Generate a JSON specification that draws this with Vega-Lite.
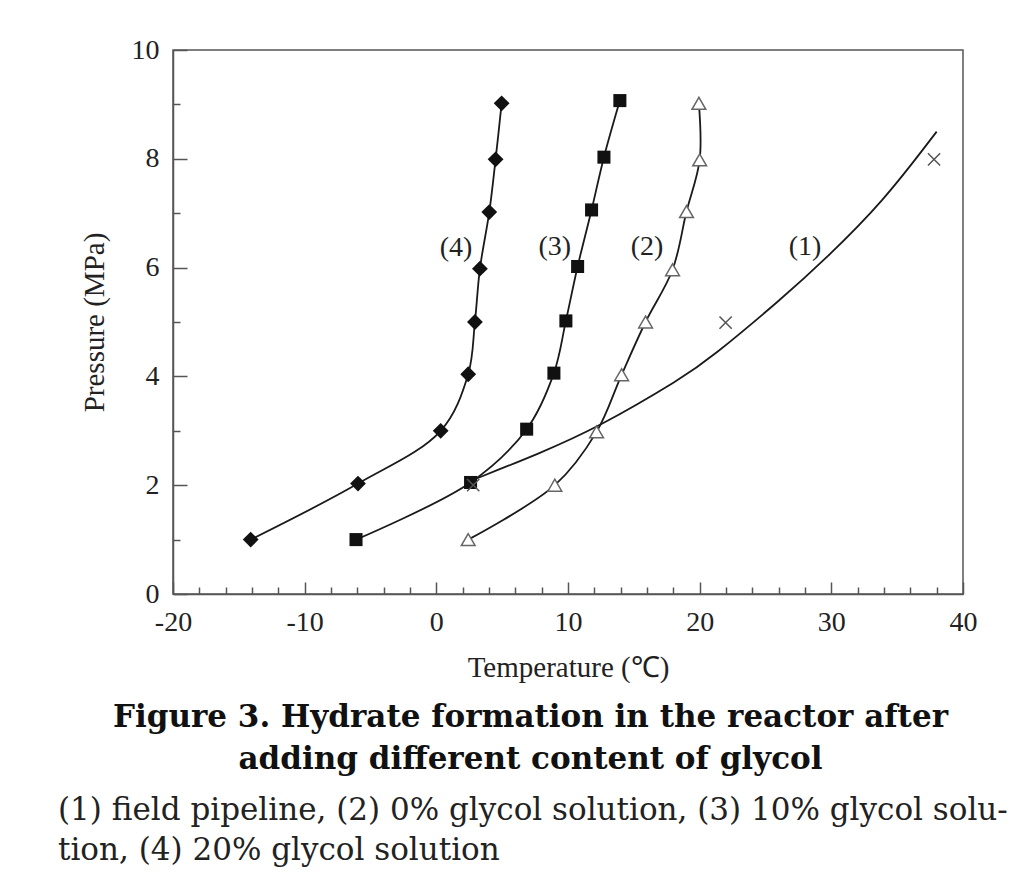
{
  "$schema": "https://vega.github.io/schema/vega-lite/v6.json",
  "width": 790,
  "height": 544,
  "autosize": "none",
  "padding": {"left": 173, "top": 50, "right": 56, "bottom": 290},
  "background": "white",
  "config": {
    "view": {"stroke": "#555", "strokeWidth": 1.5},
    "font": "Liberation Serif",
    "axis": {
      "grid": false,
      "domainColor": "#555",
      "domainWidth": 1.5,
      "tickColor": "#555",
      "tickWidth": 1.5,
      "labelColor": "#222",
      "titleColor": "#222",
      "labelFont": "Liberation Serif",
      "titleFont": "Liberation Serif",
      "labelFontSize": 28,
      "titleFontSize": 29,
      "titleFontWeight": "normal"
    }
  },
  "datasets": {
    "pts": [
      {"s": "(4)", "i": 1, "T": -14.1, "P": 1.0},
      {"s": "(4)", "i": 2, "T": -5.95, "P": 2.03},
      {"s": "(4)", "i": 3, "T": 0.33, "P": 3.0},
      {"s": "(4)", "i": 4, "T": 2.42, "P": 4.04},
      {"s": "(4)", "i": 5, "T": 2.93, "P": 5.0},
      {"s": "(4)", "i": 6, "T": 3.31, "P": 5.98},
      {"s": "(4)", "i": 7, "T": 4.02, "P": 7.02},
      {"s": "(4)", "i": 8, "T": 4.5, "P": 7.99},
      {"s": "(4)", "i": 9, "T": 4.96, "P": 9.02},
      {"s": "(3)", "i": 1, "T": -6.1, "P": 1.0},
      {"s": "(3)", "i": 2, "T": 2.6, "P": 2.05},
      {"s": "(3)", "i": 3, "T": 6.86, "P": 3.03},
      {"s": "(3)", "i": 4, "T": 8.93, "P": 4.06},
      {"s": "(3)", "i": 5, "T": 9.84, "P": 5.02},
      {"s": "(3)", "i": 6, "T": 10.73, "P": 6.02},
      {"s": "(3)", "i": 7, "T": 11.79, "P": 7.06},
      {"s": "(3)", "i": 8, "T": 12.73, "P": 8.03},
      {"s": "(3)", "i": 9, "T": 13.94, "P": 9.07},
      {"s": "(2)", "i": 1, "T": 2.42, "P": 1.0},
      {"s": "(2)", "i": 2, "T": 9.0, "P": 2.0},
      {"s": "(2)", "i": 3, "T": 12.17, "P": 2.98},
      {"s": "(2)", "i": 4, "T": 14.07, "P": 4.03},
      {"s": "(2)", "i": 5, "T": 15.89, "P": 5.0},
      {"s": "(2)", "i": 6, "T": 17.94, "P": 5.96},
      {"s": "(2)", "i": 7, "T": 19.0, "P": 7.03},
      {"s": "(2)", "i": 8, "T": 20.0, "P": 7.98},
      {"s": "(2)", "i": 9, "T": 19.94, "P": 9.02},
      {"s": "(1)", "i": 1, "T": 2.8, "P": 2.0},
      {"s": "(1)", "i": 2, "T": 21.97, "P": 4.99},
      {"s": "(1)", "i": 3, "T": 37.8, "P": 7.99}
    ],
    "fit1": [
      {"i": 1, "T": 2.6, "P": 2.08},
      {"i": 2, "T": 7.9, "P": 2.59},
      {"i": 3, "T": 12.2, "P": 3.05},
      {"i": 4, "T": 18.75, "P": 3.98},
      {"i": 5, "T": 20.8, "P": 4.33},
      {"i": 6, "T": 26.3, "P": 5.44},
      {"i": 7, "T": 29.6, "P": 6.17},
      {"i": 8, "T": 33.9, "P": 7.2},
      {"i": 9, "T": 38.0, "P": 8.5}
    ],
    "labels": [
      {"label": "(4)", "T": 1.5, "P": 6.36},
      {"label": "(3)", "T": 9.0, "P": 6.38},
      {"label": "(2)", "T": 16.0, "P": 6.38},
      {"label": "(1)", "T": 28.0, "P": 6.38}
    ]
  },
  "title": {
    "text": ["(1) field pipeline, (2) 0% glycol solution, (3) 10% glycol solu-", "tion, (4) 20% glycol solution"],
    "orient": "bottom",
    "anchor": "start",
    "frame": "group",
    "align": "left",
    "dx": -115,
    "offset": 22,
    "font": "DejaVu Serif",
    "fontSize": 31,
    "fontWeight": "normal",
    "color": "#222",
    "lineHeight": 40
  },
  "resolve": {"axis": {"x": "independent"}},
  "layer": [
    {
      "data": {"name": "pts"},
      "transform": [{"filter": "datum.s !== '(1)'"}],
      "mark": {"type": "line", "interpolate": "catmull-rom", "color": "#1a1a1a", "strokeWidth": 1.8},
      "encoding": {
        "x": {
          "field": "T", "type": "quantitative",
          "scale": {"domain": [-20, 40], "nice": false, "zero": false},
          "axis": {
            "orient": "bottom",
            "title": "Temperature (℃)",
            "values": [-20, -18, -16, -14, -12, -10, -8, -6, -4, -2, 0, 2, 4, 6, 8, 10, 12, 14, 16, 18, 20, 22, 24, 26, 28, 30, 32, 34, 36, 38, 40],
            "labelExpr": "datum.value % 10 === 0 ? '' + datum.value : ''",
            "tickSize": {"condition": {"test": "datum.value % 10 === 0", "value": -12}, "value": -7},
            "labelFont": "Liberation Serif",
            "labelFontSize": 28,
            "labelOverlap": false,
            "labelFlush": false,
            "labelBound": false,
            "labelPadding": 26,
            "titleFont": "Liberation Serif",
            "titleFontSize": 29,
            "titlePadding": 12
          }
        },
        "y": {
          "field": "P", "type": "quantitative",
          "scale": {"domain": [0, 10], "nice": false, "zero": false},
          "axis": {
            "title": "Pressure (MPa)",
            "values": [0, 1, 2, 3, 4, 5, 6, 7, 8, 9, 10],
            "labelExpr": "datum.value % 2 === 0 ? '' + datum.value : ''",
            "tickSize": {"condition": {"test": "datum.value % 2 === 0", "value": -14}, "value": -7},
            "labelFont": "Liberation Serif",
            "labelFontSize": 28,
            "labelOverlap": false,
            "labelFlush": false,
            "labelBound": false,
            "labelPadding": 28,
            "titleFont": "Liberation Serif",
            "titleFontSize": 29,
            "titlePadding": 22
          }
        },
        "detail": {"field": "s"},
        "order": {"field": "i"}
      }
    },
    {
      "data": {"name": "fit1"},
      "mark": {"type": "line", "interpolate": "basis", "color": "#1a1a1a", "strokeWidth": 1.8},
      "encoding": {
        "x": {"field": "T", "type": "quantitative", "axis": null},
        "y": {"field": "P", "type": "quantitative"},
        "order": {"field": "i"}
      }
    },
    {
      "data": {"name": "pts"},
      "transform": [{"filter": "datum.s === '(4)'"}],
      "mark": {"type": "point", "shape": "diamond", "filled": true, "color": "#111", "size": 250, "opacity": 1},
      "encoding": {
        "x": {"field": "T", "type": "quantitative", "axis": null},
        "y": {"field": "P", "type": "quantitative"}
      }
    },
    {
      "data": {"name": "pts"},
      "transform": [{"filter": "datum.s === '(3)'"}],
      "mark": {"type": "point", "shape": "square", "filled": true, "color": "#111", "size": 170, "opacity": 1},
      "encoding": {
        "x": {"field": "T", "type": "quantitative", "axis": null},
        "y": {"field": "P", "type": "quantitative"}
      }
    },
    {
      "data": {"name": "pts"},
      "transform": [{"filter": "datum.s === '(2)'"}],
      "mark": {"type": "point", "shape": "triangle-up", "filled": true, "fill": "white", "stroke": "#666", "strokeWidth": 1.5, "size": 190, "opacity": 1},
      "encoding": {
        "x": {"field": "T", "type": "quantitative", "axis": null},
        "y": {"field": "P", "type": "quantitative"}
      }
    },
    {
      "data": {"name": "pts"},
      "transform": [{"filter": "datum.s === '(1)'"}],
      "mark": {"type": "point", "shape": "M-1,-1L1,1M-1,1L1,-1", "filled": false, "stroke": "#555", "strokeWidth": 1.5, "size": 150, "opacity": 1},
      "encoding": {
        "x": {"field": "T", "type": "quantitative", "axis": null},
        "y": {"field": "P", "type": "quantitative"}
      }
    },
    {
      "data": {"name": "labels"},
      "mark": {"type": "text", "font": "Liberation Serif", "fontSize": 28, "color": "#222", "align": "center", "baseline": "middle"},
      "encoding": {
        "x": {
          "field": "T", "type": "quantitative",
          "axis": {
            "orient": "bottom",
            "domain": false,
            "ticks": false,
            "labels": false,
            "title": ["Figure 3. Hydrate formation in the reactor after", "adding different content of glycol"],
            "titleFont": "DejaVu Serif",
            "titleFontWeight": "bold",
            "titleFontSize": 31,
            "titleLineHeight": 42,
            "titleColor": "#111",
            "titleX": 357,
            "titlePadding": 108
          }
        },
        "y": {"field": "P", "type": "quantitative"},
        "text": {"field": "label"}
      }
    }
  ]
}
